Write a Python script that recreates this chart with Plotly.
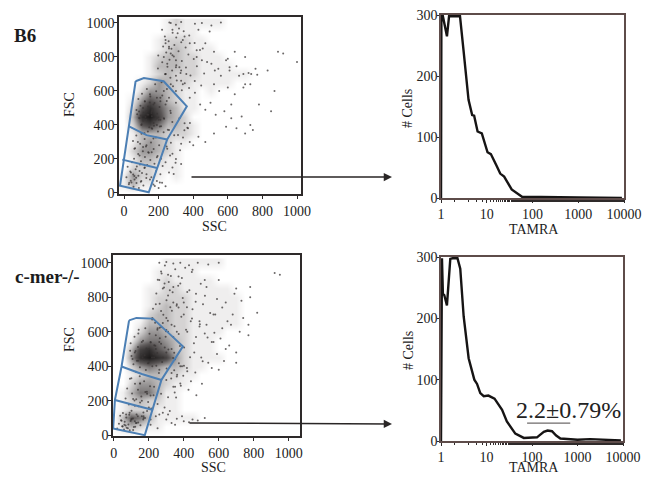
import plotly.graph_objects as go

W, H = 651, 477

# density: rows FSC 1000..0, columns SSC 0..1000 (step 50)
grid_ssc = list(range(0, 1050, 50))
grid_fsc = list(range(1000, -50, -50))
b6_density = [
 [0,0,0,0,0,1,2,1,1,1,1,1,0,0,0,0,0,0,0,0,0],
 [0,0,0,0,0,1,1,1,1,0,0,0,0,0,0,0,0,0,0,0,0],
 [0,0,0,0,1,2,2,2,1,1,0,0,0,0,0,0,0,0,0,0,0],
 [0,0,0,0,1,2,3,2,1,1,1,0,0,0,0,0,0,0,0,0,0],
 [0,0,0,1,2,3,3,2,2,1,1,1,0,0,0,0,0,0,0,0,0],
 [0,0,0,1,3,3,3,2,2,1,1,1,1,0,0,0,0,0,0,0,0],
 [0,0,0,1,2,3,2,2,2,1,1,1,1,1,1,0,0,0,0,0,0],
 [0,0,1,2,4,3,2,2,1,1,1,1,1,0,0,0,0,0,0,0,0],
 [0,0,2,4,4,3,2,1,1,0,1,0,0,0,0,0,0,0,0,0,0],
 [0,1,4,6,5,3,2,1,1,0,0,0,0,0,0,0,0,0,0,0,0],
 [0,2,6,8,6,4,3,1,1,0,0,0,0,0,0,0,0,0,0,0,0],
 [0,3,8,9,7,4,3,2,0,0,0,0,0,0,0,0,0,0,0,0,0],
 [0,2,6,7,5,3,3,2,1,0,0,0,0,0,0,0,0,0,0,0,0],
 [0,1,3,3,3,2,2,2,1,0,0,0,0,0,0,0,0,0,0,0,0],
 [0,1,3,4,3,2,1,1,0,0,0,0,0,0,0,0,0,0,0,0,0],
 [0,2,4,4,3,2,1,0,0,0,0,0,0,0,0,0,0,0,0,0,0],
 [0,1,3,3,2,1,1,0,0,0,0,0,0,0,0,0,0,0,0,0,0],
 [0,2,2,2,1,1,1,0,0,0,0,0,0,0,0,0,0,0,0,0,0],
 [1,4,2,2,1,0,1,0,0,0,0,0,0,0,0,0,0,0,0,0,0],
 [1,3,1,1,0,0,0,0,0,0,0,0,0,0,0,0,0,0,0,0,0],
 [0,0,0,0,0,0,0,0,0,0,0,0,0,0,0,0,0,0,0,0,0],
]
cmer_density = [
 [0,0,0,0,0,0,1,1,1,1,1,1,1,0,0,0,0,0,0,0,0],
 [0,0,0,0,0,1,1,1,1,1,0,0,0,0,0,0,0,0,0,0,0],
 [0,0,0,0,0,1,2,1,1,1,1,1,0,0,0,0,0,0,0,0,0],
 [0,0,0,0,1,1,2,2,1,1,1,1,1,1,0,0,0,0,0,0,0],
 [0,0,0,0,1,2,2,2,2,1,1,1,1,1,1,0,0,0,0,0,0],
 [0,0,0,0,1,2,3,2,2,1,1,1,1,1,1,0,0,0,0,0,0],
 [0,0,0,0,2,3,3,2,2,1,1,1,1,1,1,0,0,0,0,0,0],
 [0,0,0,1,3,3,3,2,2,1,1,1,1,1,1,0,0,0,0,0,0],
 [0,0,0,2,4,4,3,2,2,1,1,1,1,0,0,0,0,0,0,0,0],
 [0,0,1,4,5,5,4,3,2,1,1,1,0,0,0,0,0,0,0,0,0],
 [0,0,3,7,8,6,5,3,2,1,1,1,0,0,0,0,0,0,0,0,0],
 [0,0,4,8,9,8,7,4,2,1,1,1,1,0,0,0,0,0,0,0,0],
 [0,0,2,4,5,4,3,3,2,1,1,0,0,0,0,0,0,0,0,0,0],
 [0,0,1,2,3,3,2,2,1,1,0,0,0,0,0,0,0,0,0,0,0],
 [0,0,2,4,4,3,2,1,1,0,0,0,0,0,0,0,0,0,0,0,0],
 [0,1,3,5,5,3,1,1,0,0,0,0,0,0,0,0,0,0,0,0,0],
 [0,1,2,3,2,2,1,1,0,0,0,0,0,0,0,0,0,0,0,0,0],
 [0,1,2,2,2,1,1,1,0,0,0,0,0,0,0,0,0,0,0,0,0],
 [0,3,6,5,3,1,1,1,1,1,0,0,0,0,0,0,0,0,0,0,0],
 [0,2,3,2,1,1,0,0,0,0,0,0,0,0,0,0,0,0,0,0,0],
 [0,0,0,0,0,0,0,0,0,0,0,0,0,0,0,0,0,0,0,0,0],
]

# individual dots (SSC, FSC)
b6_ssc = [270,300,330,410,450,505,560,310,350,430,495,470,520,600,640,700,890,920,505,545,590,610,650,690,720,770,830,870,1000,
          420,455,480,525,560,610,665,700,735,760,520,550,600,640,690,730,780,850,
          380,410,440,470,500,530,580,620,680,730,700,745,650,620,590,520,470,430,400,370,
          340,380,420,450,360,330,300,280,260,240,270,300,330,230,250,
          220,240,260,280,300,320,340,240,270,300,210,230,260,180,210,240,
          160,190,210,240,270,300,320,350,190,230,260,290,330,380,
          110,140,170,200,90,120,150,100,130,160,190,80,110,140,170,
          60,90,130,160,190,40,70,100,130,30,60,90,120,
          250,280,240,300,260,210,190,220,240,280,330,150,170,200]
b6_fsc = [1000,990,1005,995,1000,985,1002,940,920,960,950,880,830,790,830,800,830,820,760,730,780,720,745,700,705,695,720,600,770,
          800,850,770,720,690,740,690,640,700,730,640,600,620,580,620,640,520,480,
          560,590,520,490,530,460,480,520,450,400,350,370,380,440,390,350,300,330,280,380,
          900,880,840,780,700,660,600,960,860,880,820,740,720,800,760,
          960,900,850,810,780,740,640,700,640,690,560,600,560,640,540,700,
          480,560,430,520,470,530,440,410,400,440,370,340,290,300,
          500,460,520,430,440,540,580,400,480,380,440,300,270,240,320,
          260,220,280,240,210,120,90,70,110,60,100,130,150,
          260,230,180,200,120,110,70,60,40,150,170,80,50,30]
b6_more_ssc = [262,318,281,345,236,302,377,258,331,291,408,226,274,356,315,244,439,198,288,372,263,334,221,403,302,251,358,196,278,421,327,238,384,268,463,305,351,217,409,283,248,334,376,446,
               132,186,104,221,152,83,247,121,176,95,205,143,72,268,114,191,161,88,232,128,279,171,102,214,146,253,196,118,158,97,139,183,76,207,124,165,111,149,87,198,135,173,
               163,101,138,71,184,119,52,156,93,203,127,64,171,109,143,82,194,121,58,152,98,176,134,74,
               46,92,21,118,67,36,104,53,83,14,129,61,39,97,72,28,112,55,86,43,
               229,312,185,271,341,158,246,298,207,366,266,324,178,223,349,287,214,381]
b6_more_fsc = [1003,968,942,951,921,914,926,893,887,871,882,862,848,856,833,826,841,808,802,815,784,776,769,788,751,743,738,732,721,746,706,698,691,677,703,662,645,651,659,628,612,604,618,632,
               612,598,584,573,567,552,541,538,529,513,506,497,488,483,474,466,452,441,437,429,418,411,404,393,386,372,361,352,470,455,508,432,463,391,447,489,425,532,479,444,461,395,
               378,349,361,338,327,318,306,297,289,281,274,263,258,246,237,229,218,211,202,194,187,172,164,156,
               181,168,154,147,139,126,118,109,101,93,88,79,72,66,58,51,44,37,29,62,
               357,341,128,296,326,92,273,178,61,384,221,251,41,158,369,111,201,412]

cmer_ssc = [260,300,340,380,430,480,540,600,270,310,370,450,520,600,700,780,950,920,
            340,380,420,470,530,590,640,690,730,780,820,360,400,450,510,570,620,680,740,770,650,
            490,530,580,620,670,720,770,420,470,520,560,610,660,700,460,500,540,590,630,560,600,
            440,490,570,640,700,280,310,340,370,400,240,270,300,330,360,260,290,320,
            220,250,280,310,340,210,240,270,300,330,200,230,260,300,350,380,
            330,360,390,420,350,380,300,340,270,310,250,290,320,260,240,
            300,330,360,400,450,480,520,280,310,350,390,430,
            120,160,200,240,280,140,180,220,260,100,150,190,230,
            70,100,130,160,60,90,120,170,50,80,110,210,250,
            150,180,210,120,160,200,130,170,210,110,150,190]
cmer_fsc = [1000,1005,995,1000,985,1000,990,1000,950,930,920,960,900,900,850,860,930,940,
            860,880,830,820,860,790,770,820,780,800,710,760,770,730,760,700,740,700,680,640,660,
            660,640,700,620,640,600,580,600,570,590,540,560,520,480,480,450,420,470,430,390,380,
            660,630,540,500,420,850,810,770,740,700,760,720,680,640,600,900,880,840,
            680,620,650,600,570,540,580,530,610,500,500,450,540,480,440,400,
            360,340,400,370,280,300,320,280,240,220,180,160,140,120,110,
            90,70,95,80,90,85,100,130,120,60,110,75,
            480,540,420,500,450,590,620,400,380,330,300,240,280,
            120,90,70,110,60,130,80,100,50,40,30,60,40,
            300,250,230,170,200,160,120,110,90,210,190,140]
cmer_more_ssc = [292,351,408,273,446,326,389,251,314,497,368,287,432,336,243,521,394,301,468,262,359,418,224,332,551,283,386,447,309,236,492,347,262,413,298,575,371,219,458,323,271,402,536,345,249,436,296,508,378,
                 142,204,118,263,167,96,231,138,187,312,124,248,156,101,218,339,172,132,276,195,112,243,149,302,183,126,258,211,93,164,227,139,291,176,107,237,
                 372,418,345,466,397,328,441,362,504,383,427,348,472,401,356,
                 148,92,173,121,207,76,138,189,104,227,157,67,118,196,86,141,214,101,169,128,
                 52,88,137,71,109,168,41,96,62,126,29,83,152,48,114,73,19,101,58,139,36,91,67,178,44,122]
cmer_more_fsc = [984,962,971,938,947,923,912,902,889,878,867,856,841,829,822,808,796,783,774,762,751,742,733,721,709,698,687,676,664,652,643,631,623,612,603,594,586,671,533,742,628,508,567,478,611,452,571,428,517,
                 612,588,571,562,547,533,521,512,503,497,488,476,468,459,451,447,439,432,424,417,411,402,394,386,378,368,361,538,489,451,472,431,508,463,442,519,
                 417,389,376,363,344,328,312,351,298,286,263,247,231,402,219,
                 342,327,313,298,284,271,263,251,242,231,224,213,201,192,178,167,154,141,132,208,
                 128,118,109,103,96,91,87,82,77,71,66,61,58,52,47,43,38,93,33,74,112,29,56,99,84,48]

# gate outlines (SSC, FSC)
b6_gate_ssc = [67,115,229,363,249,191,143,-23,0,29,67,None,29,130,249,None,-10,90,191]
b6_gate_fsc = [657,676,657,510,314,147,4,43,196,392,657,None,392,340,314,None,196,170,147]
cmer_gate_ssc = [87,129,224,395,272,224,177,-4,6,44,87,None,44,160,272,None,6,110,224]
cmer_gate_fsc = [666,680,676,515,320,155,0,39,204,398,666,None,398,355,320,None,204,175,146]

# TAMRA histograms
b6_tamra = [1,1.02,1.1,1.2,1.35,1.5,1.8,2.6,3.1,4.0,4.8,5.3,6.3,7.8,10.4,12.3,16.6,19.7,24,35,59,288,1000,9000]
b6_cells = [0,298,298,285,265,298,298,298,243,161,136,135,109,106,75,72,52,40,35,14,2,2,1,0]
cmer_tamra = [1,1.02,1.05,1.1,1.18,1.35,1.6,1.8,2.3,2.65,3.15,4.05,5.4,6.2,7.3,8.7,11,15,19.5,22,28,43,66,100,129,150,182,220,275,340,420,1000,1900,9000]
cmer_cells = [0,298,298,240,238,221,297,298,298,281,203,135,100,93,78,73,74,69,56,51,32,12,5,5,6,10,15,17,16,9,4,2,3,1]
bracket_tamra = [78,693]
bracket_cells = [29,29]
percent_label = "2.2±0.79%"
percent_tamra = [640]
percent_cells = [47]

linear_ticks = [0,200,400,600,800,1000]
cells_ticks = [0,100,200,300]
tamra_ticks = [1,10,100,1000,10000]
tamra_labels = ["1","10","100","1000","10000"]

FONT = "Liberation Serif"
DARK = "#2e2a2a"
HIST_EDGE = "#5e4c4a"
BLUE = "#4c7fb4"
GREYS = [[0,"#ffffff"],[0.11,"#efeeee"],[0.33,"#bcbaba"],[0.66,"#5a5656"],[1,"#1c1a1a"]]

def dom(a, b, size):
    return [a/size, b/size]

panels = {
    "a": dict(x=(119,301), y=(17,194), xr=[-29,1023], yr=[-6,1035]),
    "c": dict(x=(113,300), y=(255,436), xr=[-5,1065], yr=[-5,1045]),
    "b": dict(x=(441,624), y=(15,198), xr=[0,4], yr=[0,300]),
    "d": dict(x=(441,623), y=(257,441), xr=[0,4], yr=[0,300]),
}

fig = go.Figure()
layout = dict(width=W, height=H, margin=dict(l=0,r=0,t=0,b=0), autosize=False,
              paper_bgcolor="white", plot_bgcolor="white", showlegend=False,
              font=dict(family=FONT, size=14, color="#222"))

def axes(idx, p, kind):
    edge = DARK if kind == "flow" else HIST_EDGE
    xa = dict(domain=dom(p["x"][0],p["x"][1],W), anchor=f"y{idx}", showgrid=False, zeroline=False, automargin=False,
              showline=True, mirror=True, linecolor=edge, linewidth=1.6, ticks="outside",
              ticklen=3, tickcolor=DARK)
    ya = dict(domain=[1-p["y"][1]/H, 1-p["y"][0]/H], anchor=f"x{idx}", showgrid=False, zeroline=False, automargin=False,
              showline=True, mirror=True, linecolor=edge, linewidth=1.6, ticks="outside",
              ticklen=3, tickcolor=DARK, ticklabelstandoff=-3)
    if kind == "flow":
        xa.update(range=p["xr"], tickvals=linear_ticks)
        ya.update(range=p["yr"], tickvals=linear_ticks)
    else:
        xa.update(type="log", range=p["xr"], tickvals=tamra_ticks, ticktext=tamra_labels, ticklabelstandoff=-1,
                  minor=dict(ticks="outside", ticklen=2, tickcolor=DARK, showgrid=False))
        ya.update(range=p["yr"], tickvals=cells_ticks, ticklen=2)
    layout[f"xaxis{idx}"] = xa
    layout[f"yaxis{idx}"] = ya

axes(1, panels["a"], "flow")
axes(2, panels["b"], "hist")
axes(3, panels["c"], "flow")
axes(4, panels["d"], "hist")

def flow(idx, density, sx, sy, mx, my, gx, gy):
    ax = dict(xaxis=f"x{idx}", yaxis=f"y{idx}")
    fig.add_trace(go.Heatmap(x=grid_ssc, y=grid_fsc, z=density, zmin=0, zmax=9, colorscale=GREYS,
                             zsmooth="best", showscale=False, hoverinfo="skip", **ax))
    fig.add_trace(go.Scatter(x=sx+mx, y=sy+my, mode="markers",
                             marker=dict(size=2, color="#3a3636", opacity=0.75), **ax))
    fig.add_trace(go.Scatter(x=gx, y=gy, mode="lines", line=dict(color=BLUE, width=2), **ax))

def hist(idx, x, y):
    fig.add_trace(go.Scatter(x=x, y=y, mode="lines", line=dict(color="#161414", width=2.4),
                             xaxis=f"x{idx}", yaxis=f"y{idx}"))

flow(1, b6_density, b6_ssc, b6_fsc, b6_more_ssc, b6_more_fsc, b6_gate_ssc, b6_gate_fsc)
hist(2, b6_tamra, b6_cells)
flow(3, cmer_density, cmer_ssc, cmer_fsc, cmer_more_ssc, cmer_more_fsc, cmer_gate_ssc, cmer_gate_fsc)
hist(4, cmer_tamra, cmer_cells)
fig.add_trace(go.Scatter(x=bracket_tamra, y=bracket_cells, mode="lines", line=dict(color="#6e6a6a", width=1.3),
                         xaxis="x4", yaxis="y4"))
fig.add_trace(go.Scatter(x=percent_tamra, y=percent_cells, mode="text", text=[percent_label],
                         textfont=dict(family=FONT, size=24, color="#222"), cliponaxis=False, xaxis="x4", yaxis="y4"))

def px_note(text, x, y, size, angle=0):
    return dict(text=text, xref="paper", yref="paper", x=x/W, y=1-y/H, xanchor="center", yanchor="middle",
                showarrow=False, textangle=angle, font=dict(family=FONT, size=size, color="#1c1c1c"))

def arrow(x0, y0, x1, y1):
    return dict(xref="paper", yref="paper", axref="pixel", ayref="pixel", x=x1/W, y=1-y1/H, ax=x0-x1, ay=y0-y1,
                text="", showarrow=True, arrowhead=2, arrowsize=1.1, arrowwidth=1.5, arrowcolor="#2a2626")

layout["annotations"] = [
    px_note("<b>B6</b>", 25, 35, 19),
    px_note("<b>c-mer-/-</b>", 47, 276, 19),
    px_note("SSC", 214, 227, 14),
    px_note("FSC", 70, 105, 14, -90),
    px_note("SSC", 213, 467, 14),
    px_note("FSC", 69, 340, 14, -90),
    px_note("TAMRA", 534, 229, 14),
    px_note("# Cells", 408, 108, 14, -90),
    px_note("TAMRA", 534, 467, 14),
    px_note("# Cells", 408, 350, 14, -90),
    arrow(190, 177, 392, 177),
    arrow(188, 423, 392, 424),
]
fig.update_layout(**layout)
fig.write_html("out.html", config=dict(displayModeBar=False), post_script="document.body.style.margin='0';")
